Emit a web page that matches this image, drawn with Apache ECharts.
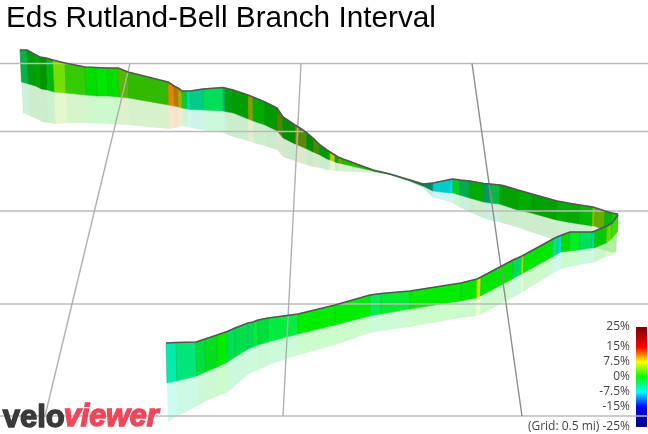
<!DOCTYPE html>
<html>
<head>
<meta charset="utf-8">
<style>html,body{margin:0;padding:0;background:#fff}#main{width:648px;height:434px}</style>
<script src="https://cdn.jsdelivr.net/npm/echarts@6/dist/echarts.min.js"></script>
</head>
<body>
<div id="main"></div>
<script>
// far leg of the ride, last point only closes the strip
var farX = [20,27,34,40,46,53,65,85,96,107,118,128,168,174,178,182,187,190,203,223,225,233,248,253,265,277,283,295,300,307,313,320,327,330,335,338,343,373,390,410,423,433,450,453,460,470,484,490,500,503,518,532,557,568,580,593,595,605,612,618];
var farTop = [50,50,54,57,58,60,63,67,67.5,68,68,72,82,86,88,91,91,91,89,87.5,88,90,95,97,102,108,117,125,128,133,138,145,150,152,155,157,159,170,174,180,184,183,179.5,179,180,181,183.5,184,185,185.5,190,194,201,203,205,207,208,211,213,214];
var farBase = [82,84,86,89,90,92,93,95,96,96,97,98,105,106,107,108,109,109.5,110,111,111.5,113,119,121,125,131,138,144,146,149,152,155,159,160,162,163,164,171,174.5,181,186,191,193,193,195,198,202,203,204,205,210,213,220,222,224,226,226,230,232,232];
var farShadow = [113,116,119,122,123,124,123,123,123.5,124,124.5,125,129,128,127,126,127,128,130,133,134,137,141,143,146,150,157,161,163,165,167,168,170,170,171,171,171.5,172.5,175,182,188,197,202,203,207,212,218,220,222,223,227,232,240,242,245,247,247,250,252,252];
var farGrade = [-3,-0.5,0,0,-0.5,4,1.9,0,0,0,3.4,2,10.4,10.2,7.5,-1.9,-5.8,-5,-3,-4.5,-0.5,0,6,0,0,4,0,7.5,4,0,3.5,0,0,6.8,0,4,1.4,0,-2,-2,-5,-7.5,-7,-1.5,-3.5,0,-5,-2.5,0,0,0,0,0,0,0,5,4.5,0,0];
var farShade = [0.7,0.62,0.65,0.58,0.72,0.87,0.8,0.87,0.9,0.87,0.73,0.73,0.87,0.73,0.67,0.8,0.87,0.8,0.87,0.73,0.63,0.62,0.63,0.67,0.6,0.53,0.56,0.5,0.56,0.56,0.56,0.6,0.67,0.8,0.67,0.67,0.73,0.67,0.67,0.5,0.53,0.8,0.87,0.8,0.67,0.67,0.6,0.73,0.67,0.63,0.67,0.63,0.69,0.67,0.73,0.8,0.67,0.73,0.8];

// near leg, from the start of the interval up to the turn
var nearX = [166,176,196,205,217,227,235,248,253,258,268,298,335,370,381,410,461,477,481,513,522,524,553,558,562,570,580,592,595,602,607,612,618];
var nearTop = [343,342.5,342,339,335,331.5,328,323,322,320,318,314,305,295,293.5,291,283,279,277,260,256,255,239,236.5,235,232,232,232,231,228,226,223,215];
var nearBase = [383,381,376,372,367,362,357,349,347,345,342,334,325,316,314,309,301,298,296,279,274,273,257,254,252,251,250,248,248,245,243,239,232];
var nearShadow = [422,416,406,401,396,392,385,374,372,370,365,355,345,333,331,327,318,316,315,298,293,292,274,271,269,267,265,263,263,259,257,256,253];
var nearGrade = [-5.5,-4,-2,-1,0,-3,-2.5,-3,-2,-2,-2,0,0,-2.5,-1.5,0,0,6,0,-3,6,0,-4,-7,0,-1,-3,-5,0,0,3,2];
var nearShade = [0.93,0.9,0.87,0.87,0.93,0.87,0.87,0.87,0.93,0.87,0.93,0.93,0.93,0.93,0.93,0.93,0.9,0.93,0.9,0.85,0.87,0.9,0.9,0.85,0.87,0.93,0.87,0.85,0.8,0.8,0.87,0.87];

// ground grid
var rowY = [63.5,131.5,211,304,416];
var colTopX = [130,301,472];
var colBottomX = [45,283,522];

// colour scale
var scaleGrades = [-25,-15,-7.5,0,7.5,15,25];
var scaleColors = [[0,0,128],[0,0,255],[0,255,255],[0,255,0],[255,255,0],[255,0,0],[128,0,0]];
var scaleLabels = [25,15,7.5,0,-7.5,-15,-25];

function gradeRgb(g) {
  for (var i = 0; i < scaleGrades.length - 1; i++) {
    if (g <= scaleGrades[i + 1]) {
      var t = (g - scaleGrades[i]) / (scaleGrades[i + 1] - scaleGrades[i]);
      return scaleColors[i].map(function (c, k) {
        return c + (scaleColors[i + 1][k] - c) * t;
      });
    }
  }
  return scaleColors[scaleColors.length - 1];
}
function rgba(c, s, a) {
  return 'rgba(' + Math.round(c[0] * s) + ',' + Math.round(c[1] * s) + ',' + Math.round(c[2] * s) + ',' + a + ')';
}
// uprights converge a little towards the middle of the picture
function lean(x, drop) {
  return x + (318 - x) * drop / 6258;
}

function ribbon(xs, tops, bases, shadows, grades, shades) {
  var rows = grades.map(function (g, i) { return [xs[i], xs[i + 1]]; });
  return {
    type: 'custom',
    coordinateSystem: 'cartesian2d',
    xAxisIndex: 0,
    yAxisIndex: 0,
    silent: true,
    clip: false,
    encode: { x: [0, 1], y: -1 },
    data: rows,
    renderItem: function (params, api) {
      var i = params.dataIndex, j = i + 1;
      function pt(x, y) { return api.coord([x, y]); }
      var t0 = pt(xs[i], tops[i]), t1 = pt(xs[j], tops[j]);
      var b0 = pt(lean(xs[i], bases[i] - tops[i]), bases[i]);
      var b1 = pt(lean(xs[j], bases[j] - tops[j]), bases[j]);
      var s0 = pt(lean(xs[i], shadows[i] - tops[i]), shadows[i]);
      var s1 = pt(lean(xs[j], shadows[j] - tops[j]), shadows[j]);
      var c = gradeRgb(grades[i]);
      return {
        type: 'group',
        children: [{
          type: 'polygon',
          shape: { points: [b0, b1, s1, s0] },
          style: { fill: rgba(c, shades[i], 0.2) }
        }, {
          type: 'polygon',
          shape: { points: [t0, t1, b1, b0] },
          style: { fill: rgba(c, shades[i], 1), stroke: rgba(c, shades[i] * 0.97, 1), lineWidth: 0.5 }
        }, {
          // faint seam between two stretches
          type: 'line',
          shape: { x1: t0[0], y1: t0[1], x2: b0[0], y2: b0[1] },
          style: { stroke: 'rgba(0,60,0,0.16)', lineWidth: 0.8 }
        }]
      };
    }
  };
}
function edge(xs, tops) {
  return {
    type: 'line',
    xAxisIndex: 0,
    yAxisIndex: 0,
    silent: true,
    symbol: 'none',
    clip: false,
    lineStyle: { color: '#555', width: 1.6 },
    data: xs.map(function (x, i) { return [x, tops[i]]; })
  };
}
function gridLine(points, color, width) {
  return {
    type: 'line',
    xAxisIndex: 0,
    yAxisIndex: 0,
    silent: true,
    symbol: 'none',
    lineStyle: { color: color, width: width },
    data: points
  };
}

var chart = echarts.init(document.getElementById('main'), null, { renderer: 'canvas' });
var series = [];
rowY.forEach(function (y) {
  series.push(gridLine([[0, y], [648, y]], '#bbbbbb', 1.6));
});
colTopX.forEach(function (x, i) {
  series.push(gridLine([[x, rowY[0]], [colBottomX[i], rowY[4]]], ['#b0b0b0', '#b0b0b0', '#8c8c8c'][i], 1.4));
});
series.push(ribbon(farX, farTop, farBase, farShadow, farGrade, farShade));
series.push(edge(farX, farTop));
series.push(ribbon(nearX, nearTop, nearBase, nearShadow, nearGrade, nearShade));
series.push(edge(nearX, nearTop));
// colour bar, drawn on the scale axis
series.push({
  type: 'custom',
  xAxisIndex: 1,
  yAxisIndex: 1,
  silent: true,
  data: scaleGrades.slice(1).map(function (g, i) { return [0, scaleGrades[i], g]; }),
  encode: { x: 0, y: [1, 2] },
  renderItem: function (params, api) {
    var i = params.dataIndex;
    var lo = api.coord([0, api.value(1)]), hi = api.coord([1, api.value(2)]);
    return {
      type: 'rect',
      shape: { x: lo[0], y: hi[1], width: hi[0] - lo[0], height: lo[1] - hi[1] },
      style: {
        fill: new echarts.graphic.LinearGradient(0, 1, 0, 0, [
          { offset: 0, color: rgba(scaleColors[i], 1, 1) },
          { offset: 1, color: rgba(scaleColors[i + 1], 1, 1) }
        ])
      }
    };
  }
});

chart.setOption({
  animation: false,
  backgroundColor: '#fff',
  title: {
    text: 'Eds Rutland-Bell Branch Interval',
    left: 6,
    top: 4,
    padding: 0,
    textStyle: { fontFamily: 'Liberation Sans', fontWeight: 'normal', fontSize: 29.75, color: '#000' }
  },
  grid: [
    { left: 0, right: 0, top: 0, bottom: 0 },
    { left: 636, top: 327, width: 11, height: 100 }
  ],
  xAxis: [
    { type: 'value', min: 0, max: 648, show: false, gridIndex: 0 },
    { type: 'value', min: 0, max: 1, show: false, gridIndex: 1 }
  ],
  yAxis: [
    { type: 'value', min: 0, max: 434, inverse: true, show: false, gridIndex: 0 },
    {
      type: 'value',
      min: -25,
      max: 25,
      gridIndex: 1,
      axisLine: { show: false },
      axisTick: { show: false },
      splitLine: { show: false },
      axisLabel: {
        customValues: scaleLabels,
        margin: 6,
        fontFamily: 'Open Sans',
        fontSize: 12,
        color: '#444',
        formatter: function (v) {
          return (v === -25 ? '(Grid: 0.5 mi) ' : '') + v + '%';
        }
      }
    }
  ],
  series: series,
  graphic: [{
    type: 'text',
    left: 2,
    top: 402,
    z: 100,
    style: { text: 'velo', fontFamily: 'Liberation Sans', fontWeight: 'bold', fontSize: 31, fill: '#3a3a3a', stroke: '#3a3a3a', lineWidth: 1.4 }
  }, {
    type: 'text',
    left: 63,
    top: 402,
    z: 100,
    style: { text: 'viewer', fontFamily: 'Liberation Sans', fontWeight: 'bold', fontStyle: 'italic', fontSize: 30.5, fill: '#f0465a', stroke: '#f0465a', lineWidth: 1.4 }
  }]
});
</script>
</body>
</html>
